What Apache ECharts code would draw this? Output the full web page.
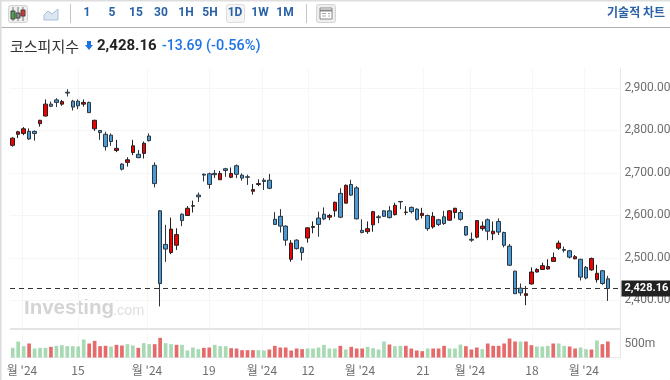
<!DOCTYPE html>
<html><head><meta charset="utf-8">
<style>html,body{margin:0;padding:0;background:#fff}#c{width:670px;height:380px}</style>
<script src="https://cdn.jsdelivr.net/npm/echarts@6/dist/echarts.min.js"></script></head>
<body><div id="c"></div>
<script>
// each row: open, close, low, high
const candles = [
[2765,2782,2762,2784],[2791,2797,2782,2799],[2793,2804,2789,2808],[2798,2780,2778,2805],[2798,2793,2776,2800],
[2816,2824,2809,2825],[2834,2862,2833,2873],[2862,2857,2855,2868],[2872,2866,2855,2876],[2862,2868,2858,2872],
[2890,2888,2880,2897],[2869,2855,2847,2872],[2869,2858,2850,2873],[2862,2866,2856,2873],[2866,2842,2841,2868],
[2804,2824,2799,2825],[2800,2795,2778,2801],[2791,2762,2753,2797],[2789,2774,2764,2793],[2753,2758,2749,2778],
[2721,2709,2706,2723],[2725,2731,2715,2737],[2748,2764,2742,2778],[2744,2736,2735,2754],[2746,2770,2734,2774],
[2787,2776,2774,2793],[2718,2675,2666,2725],[2611,2440,2386,2613],[2532,2521,2491,2578],[2513,2568,2509,2595],
[2530,2555,2519,2570],[2603,2588,2575,2605],[2600,2617,2599,2622],[2622,2623,2607,2635],[2648,2644,2632,2654],
[2697,2695,2680,2699],[2698,2673,2663,2701],[2699,2696,2688,2707],[2684,2699,2684,2705],[2710,2706,2691,2712],
[2690,2699,2688,2713],[2717,2697,2688,2720],[2695,2688,2682,2699],[2691,2690,2672,2696],[2657,2661,2649,2674],
[2673,2675,2669,2685],[2683,2680,2660,2688],[2683,2664,2662,2698],[2591,2579,2578,2608],[2598,2575,2560,2615],
[2575,2542,2529,2577],[2497,2535,2491,2542],[2542,2522,2520,2544],[2524,2513,2494,2527],[2547,2571,2536,2572],
[2572,2574,2558,2586],[2594,2579,2550,2609],[2603,2592,2589,2619],[2596,2600,2589,2604],[2611,2631,2597,2633],
[2652,2596,2594,2664],[2629,2671,2629,2673],[2673,2648,2646,2684],[2665,2592,2591,2669],[2565,2560,2558,2591],
[2562,2569,2557,2586],[2578,2609,2562,2611],[2597,2595,2582,2601],[2611,2598,2597,2612],[2611,2595,2593,2622],
[2602,2624,2600,2630],[2633,2632,2615,2633],[2607,2608,2601,2622],[2619,2609,2605,2621],[2615,2591,2588,2617],
[2600,2605,2593,2618],[2600,2569,2564,2602],[2573,2598,2569,2608],[2590,2579,2575,2592],[2597,2581,2578,2611],
[2589,2611,2587,2613],[2607,2617,2593,2618],[2607,2591,2588,2613],[2574,2554,2552,2575],[2544,2542,2538,2560],
[2549,2588,2546,2589],[2569,2575,2564,2586],[2590,2563,2542,2593],[2557,2563,2542,2586],[2586,2561,2554,2593],
[2560,2530,2525,2562],[2528,2483,2481,2533],[2469,2416,2415,2470],[2429,2418,2411,2440],[2412,2416,2389,2434],
[2439,2467,2437,2478],[2467,2473,2466,2476],[2473,2482,2472,2489],[2474,2480,2473,2497],[2492,2501,2491,2513],
[2523,2535,2519,2541],[2520,2518,2513,2527],[2517,2502,2499,2519],[2498,2503,2497,2507],[2497,2455,2447,2498],
[2478,2453,2450,2481],[2472,2499,2470,2501],[2449,2464,2442,2484],[2470,2440,2437,2472],[2451,2428.16,2399,2458]
];
const volumes = [
345,571,405,500,321,345,345,381,417,440,405,405,393,643,500,595,405,417,393,452,
428,476,428,345,512,476,476,702,512,476,452,452,250,357,298,345,357,452,405,405,
333,321,262,262,262,262,250,286,417,357,357,250,321,298,321,321,357,452,321,321,
417,286,381,321,321,381,333,286,571,464,405,417,417,321,250,226,321,321,321,417,
321,321,464,405,286,357,298,500,417,417,500,678,571,571,571,440,393,393,417,500,
500,417,393,321,357,298,286,607,476,571
];
const volumeSides = [
"GGGRGGGRGGGGGGRRRRGR","RGGRGGRRGGRGGGGRRGGG","RRRRRGGRRRRRRRGGGGGG","RGRRRGGGGRGGRRRRGRRR","GGGRRRGRRRRRRGRRGGGR","GGRRGGRGRR"
].join('');
const lastClose = 2428.16;
const priceTicks = [2400,2500,2600,2700,2800,2900];
const tickPositions = [1.7,11.95,24.6,35.95,45.65,54.1,63.6,75.15,83.75,95.1,104.6];
const tickLabels = ["월 '24","15","월 '24","19","월 '24","12","월 '24","21","월 '24","18","월 '24"];
const intervalLabels = ["1","5","15","30","1H","5H","1D","1W","1M"];
const intervalX = [87,112,136,161,186,210,235,260,285];

const FONT = '"Noto Sans CJK KR","Noto Sans",sans-serif';
const BLUE = '#2a62a6';
const categories = candles.map((_, i) => String(i)).concat(['', '']);
const fmt = v => v.toLocaleString('en-US', {minimumFractionDigits: 2, maximumFractionDigits: 2});
const line = (x1,y1,x2,y2,stroke,w) => ({type:'line',shape:{x1,y1,x2,y2},style:{stroke,lineWidth:w||1},silent:true});
const rect = (x,y,width,height,fill,stroke,r) => ({type:'rect',shape:{x,y,width,height,r:r||0},style:{fill,stroke:stroke||null,lineWidth:1},silent:true});
const text = (t,x,y,font,fill,align) => ({type:'text',x,y,silent:true,style:{text:t,font,fill,textAlign:align||'left',textVerticalAlign:'middle'}});

const graphics = [
  line(0,0.5,670,0.5,'#dedede',2),
  line(0,27.5,670,27.5,'#b0b0b0',1),
  rect(0,0,1.5,380,'#dcdcdc'),
  rect(8.5,5.5,19,17,'#eeeeee','#d4d4d4',2),
  line(13,7,13,21,'#777'), rect(11,11,4,8,'#46a546','#444'),
  line(18,7,18,21,'#777'), rect(16,13,4,5,'#888','#444'),
  line(23,7,23,21,'#777'), rect(21,10,4,6,'#d33','#444'),
  {type:'polygon',shape:{points:[[44,20],[44,15],[48,11],[52,14],[58,9],[58,20]]},style:{fill:'#dbe6f1',stroke:'#a9c1da',lineWidth:1},silent:true},
  line(70.5,4,70.5,23,'#c4c4c4'),
  rect(226.5,4.5,18,18,'#f5f5f5','#dddddd',2),
  line(306.5,4,306.5,23,'#c4c4c4'),
  rect(316.5,4.5,19,18,'#eeeeee','#d4d4d4',2),
  rect(320,8,12,11,'#fff','#888'), line(320,10.5,332,10.5,'#888',2), line(322,13.5,326,13.5,'#aaa'), line(322,16,326,16,'#aaa'), line(328,13.5,330,13.5,'#aaa'), line(328,16,330,16,'#aaa'),
  text('기술적 차트',665,12,'bold 12px '+FONT,BLUE,'right'),
  text('코스피지수',10,46,'15px '+FONT,'#333'),
  {type:'polygon',shape:{points:[[87,41],[91,41],[91,45],[93,45],[89,50],[85,45],[87,45]]},style:{fill:'#1a73e8'},silent:true},
  text('2,428.16',97,46,'bold 15px Roboto,"Noto Sans",sans-serif','#222'),
  text('-13.69',162,46,'500 14px Roboto,"Noto Sans",sans-serif','#1a73e8'),
  text('(-0.56%)',206,46,'500 14.5px Roboto,"Noto Sans",sans-serif','#1a73e8'),
  text('Investing',24,308,'bold 20.5px "Liberation Sans",sans-serif','#d4d4d4'),
  text('.com',113,311,'14.5px "Liberation Sans",sans-serif','#dedede'),
  line(10,329,620,329,'#e4e4e4',2),
  line(10,357.5,620,357.5,'#e9e9f2',1),
  line(620.5,68,620.5,358,'#e6e6f0',1),
  ...intervalLabels.map((t,i)=>text(t,intervalX[i],13,'bold 12px Roboto,"Noto Sans",sans-serif',BLUE,'center'))
];

const valueX = (gridIndex, withLabels) => ({
  type:'value', gridIndex, min:-0.5, max:111.5, position:'bottom',
  axisLine:{show:false},
  axisTick:{show:false,customValues:tickPositions},
  splitLine:{show:true,customValues:tickPositions,lineStyle:{color:'#f6f6f6',width:1}},
  axisLabel: withLabels ? {show:true,customValues:tickPositions,color:'#6e6e6e',fontSize:12,fontFamily:FONT,margin:7,hideOverlap:false,
     formatter:v=>tickLabels[tickPositions.indexOf(v)]} : {show:false}
});

const chart = echarts.init(document.getElementById('c'), null, {renderer:'canvas'});
chart.setOption({
  animation:false,
  backgroundColor:'#fff',
  grid:[
    {left:10,width:611.5,top:68,height:260,outerBoundsMode:'none'},
    {left:10,width:611.5,top:329.5,height:28,outerBoundsMode:'none'}
  ],
  xAxis:[
    {type:'category',gridIndex:0,data:categories,show:false,boundaryGap:true},
    {type:'category',gridIndex:1,data:categories,show:false,boundaryGap:true},
    valueX(0,false),
    valueX(1,true)
  ],
  yAxis:[
    {type:'value',gridIndex:0,position:'right',min:2335.3,max:2947,scale:true,
     axisLine:{show:false},axisTick:{show:false,customValues:priceTicks},
     splitLine:{show:true,customValues:priceTicks,lineStyle:{color:'#f6f6f6'}},
     axisLabel:{customValues:priceTicks,color:'#6e6e6e',fontSize:12,fontFamily:'Roboto,sans-serif',margin:3,padding:[2,0,0,0],formatter:v=>fmt(v)}},
    {type:'value',gridIndex:1,position:'right',min:0,max:1000,interval:500,
     axisLine:{show:false},axisTick:{show:false},splitLine:{show:false},
     axisLabel:{color:'#6e6e6e',fontSize:12,fontFamily:'Roboto,sans-serif',margin:3,padding:[2,0,0,0],formatter:v=>v===500?'500m':''}}
  ],
  series:[
    {type:'candlestick',xAxisIndex:0,yAxisIndex:0,data:candles,barWidth:4,
     itemStyle:{color:'#f00000',color0:'#4a9ad6',borderColor:'#222222',borderColor0:'#2b3640',borderWidth:1},
     markLine:{silent:true,symbol:'none',animation:false,
       lineStyle:{color:'#333',type:[5,4],width:1},
       label:{show:true,position:'end',formatter:()=>fmt(lastClose),color:'#fff',fontSize:11,fontWeight:'bold',fontFamily:'Roboto,sans-serif',
              backgroundColor:'#222',padding:[3,3,2,3],distance:0},
       data:[{yAxis:lastClose}]}},
    {type:'bar',xAxisIndex:1,yAxisIndex:1,barWidth:3.7,
     data:volumes.map((v,i)=>({value:v,itemStyle:{color:volumeSides[i]==='R'?'#e56b6b':'#a7d9b3'}}))}
  ],
  graphic:graphics
});
</script></body></html>
